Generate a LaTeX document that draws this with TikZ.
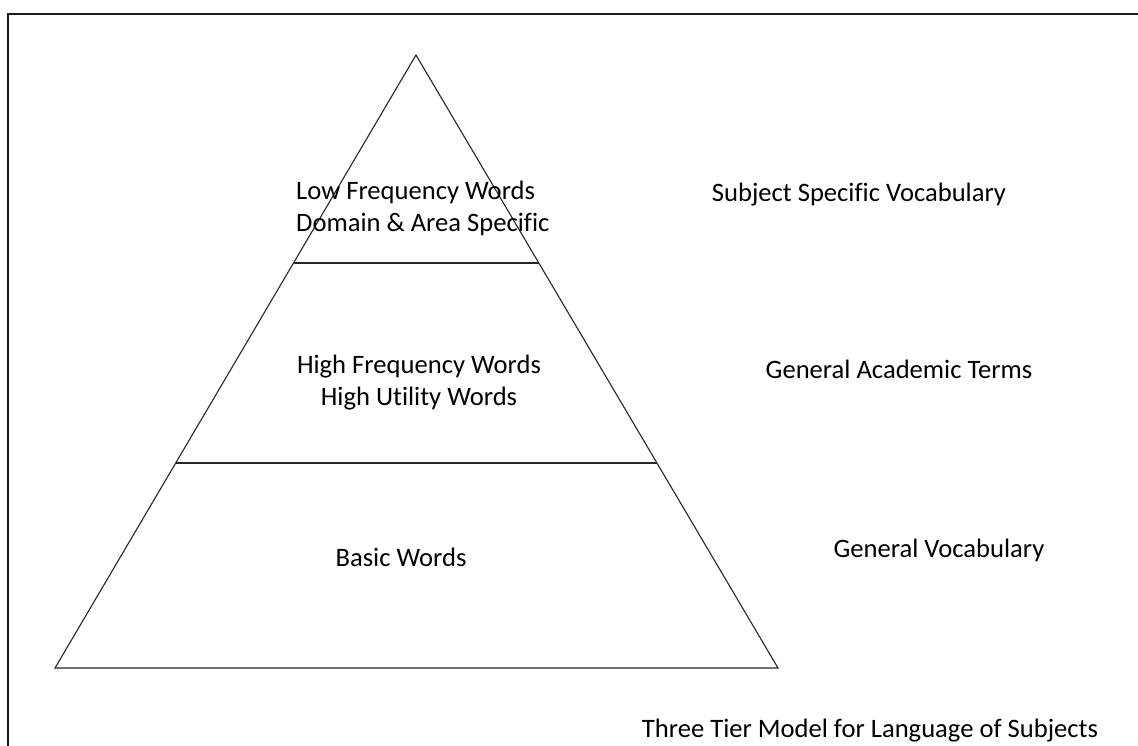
\documentclass[tikz,border=0pt]{standalone}
\usepackage{fontspec}
\setmainfont[Ligatures={NoCommon}]{Carlito}
\begin{document}
\begin{tikzpicture}[x=1pt,y=-1pt,
  lbl/.style={font=\fontsize{26.6}{32}\selectfont, inner sep=0pt},
  tri/.style={line width=1.1pt, black!85},
  frame/.style={line width=2pt, black!90}]
\useasboundingbox (0,0) rectangle (1138,745);
\clip (0,0) rectangle (1138,745);
\fill[white] (0,0) rectangle (1138,745);
% outer frame (runs past the right and lower edges)
\draw[frame] (8,13.5) rectangle (1160,770);
% pyramid
\coordinate (apex) at (416,55);
\coordinate (bl) at (55,668);
\coordinate (br) at (778,668);
\draw[tri] (apex) -- (br) -- (bl) -- cycle;
\draw[tri] (293.5,263) -- (538.8,263);
\draw[tri] (175.7,463) -- (656.9,463);
% tier labels
\node[lbl, align=left, anchor=west] (top) at (296,208) {Low Frequency Words\\Domain \& Area Specific};
\node[lbl, align=center] (mid) at (419,383) {High Frequency Words\\High Utility Words};
\node[lbl] (low) at (401,557) {Basic Words};
% side labels
\node[lbl] (s1) at (859,195) {Subject Specific Vocabulary};
\node[lbl] (s2) at (899,369) {General Academic Terms};
\node[lbl] (s3) at (939,550) {General Vocabulary};
\node[lbl] (cap) at (870,731) {Three Tier Model for Language of Subjects};
\end{tikzpicture}
\end{document}
